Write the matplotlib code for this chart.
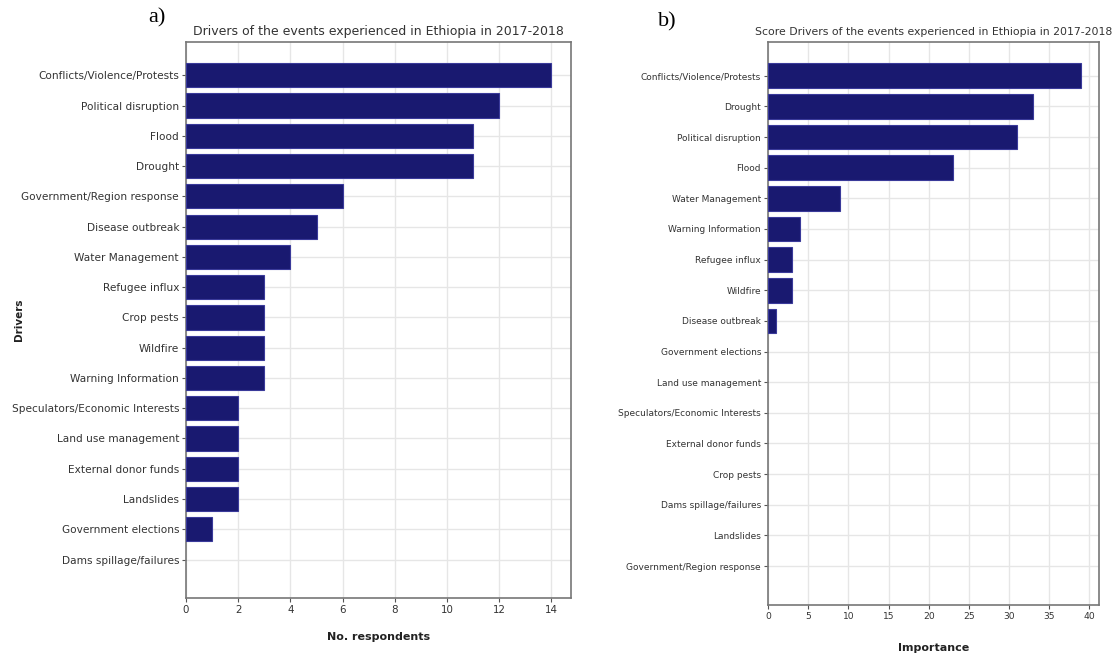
import matplotlib
matplotlib.use("Agg")
import matplotlib.pyplot as plt

# Panel a: number of respondents naming each driver
drivers_a = [
    "Conflicts/Violence/Protests", "Political disruption", "Flood", "Drought",
    "Government/Region response", "Disease outbreak", "Water Management",
    "Refugee influx", "Crop pests", "Wildfire", "Warning Information",
    "Speculators/Economic Interests", "Land use management",
    "External donor funds", "Landslides", "Government elections",
    "Dams spillage/failures",
]
respondents = [14, 12, 11, 11, 6, 5, 4, 3, 3, 3, 3, 2, 2, 2, 2, 1, 0]

# Panel b: importance score of each driver
drivers_b = [
    "Conflicts/Violence/Protests", "Drought", "Political disruption", "Flood",
    "Water Management", "Warning Information", "Refugee influx", "Wildfire",
    "Disease outbreak", "Government elections", "Land use management",
    "Speculators/Economic Interests", "External donor funds", "Crop pests",
    "Dams spillage/failures", "Landslides", "Government/Region response",
]
importance = [39, 33, 31, 23, 9, 4, 3, 3, 1, 0, 0, 0, 0, 0, 0, 0, 0]

ticks_a = [0, 2, 4, 6, 8, 10, 12, 14]
ticks_b = [0, 5, 10, 15, 20, 25, 30, 35, 40]

BAR = "#191970"
EDGE = "#3a3a9a"
TXT = "#333333"

W, H = 1115, 656
fig = plt.figure(figsize=(W / 100, H / 100), dpi=100)


def box(l, t, r, b):
    return [l / W, 1 - b / H, (r - l) / W, (b - t) / H]


def panel(ax, names, vals, ticks, xmax, title, xlabel, lab_fs, title_fs, tick_fs, xlpad):
    y = list(range(len(names)))
    lw = [0.8 if v > 0 else 0 for v in vals]
    ax.barh(y, vals, height=0.8, color=BAR, edgecolor=EDGE, linewidth=lw, zorder=3)
    ax.set_yticks(y)
    ax.set_yticklabels(names, fontsize=lab_fs, color=TXT)
    ax.set_ylim(len(names) - 1 + 1.27, -1.1)
    ax.set_xlim(0, xmax)
    ax.set_xticks(ticks)
    ax.set_xticklabels([str(t) for t in ticks], fontsize=tick_fs, color=TXT)
    ax.grid(True, color="#e6e6e6", linewidth=1.0, zorder=0)
    ax.set_axisbelow(True)
    for s in ax.spines.values():
        s.set_color("#777777")
        s.set_linewidth(1.2)
    ax.tick_params(axis="both", length=3, width=0.8, color="#555555", pad=2)
    ax.set_title(title, fontsize=title_fs, color=TXT, pad=5)
    ax.set_xlabel(xlabel, fontsize=8, fontweight="bold", color="#222222", labelpad=xlpad)


ax1 = fig.add_axes(box(186, 42, 571, 598))
panel(ax1, drivers_a, respondents, ticks_a, 14.75,
      "Drivers of the events experienced in Ethiopia in 2017-2018",
      "No. respondents", 7.6, 9.0, 7.4, 12)
ax1.set_ylabel("Drivers", fontsize=7.5, fontweight="bold", color="#222222")
ax1.yaxis.set_label_coords(-0.42, 0.5)

ax2 = fig.add_axes(box(768, 42, 1099, 605))
panel(ax2, drivers_b, importance, ticks_b, 41.2,
      "Score Drivers of the events experienced in Ethiopia in 2017-2018",
      "Importance", 6.5, 7.8, 6.6, 16)

fig.text(148 / W, 1 - 18 / H, "a)", fontsize=16, family="Liberation Serif",
         va="center", ha="left")
fig.text(658 / W, 1 - 22 / H, "b)", fontsize=16, family="Liberation Serif",
         va="center", ha="left")

fig.savefig("out.png", dpi=100)
